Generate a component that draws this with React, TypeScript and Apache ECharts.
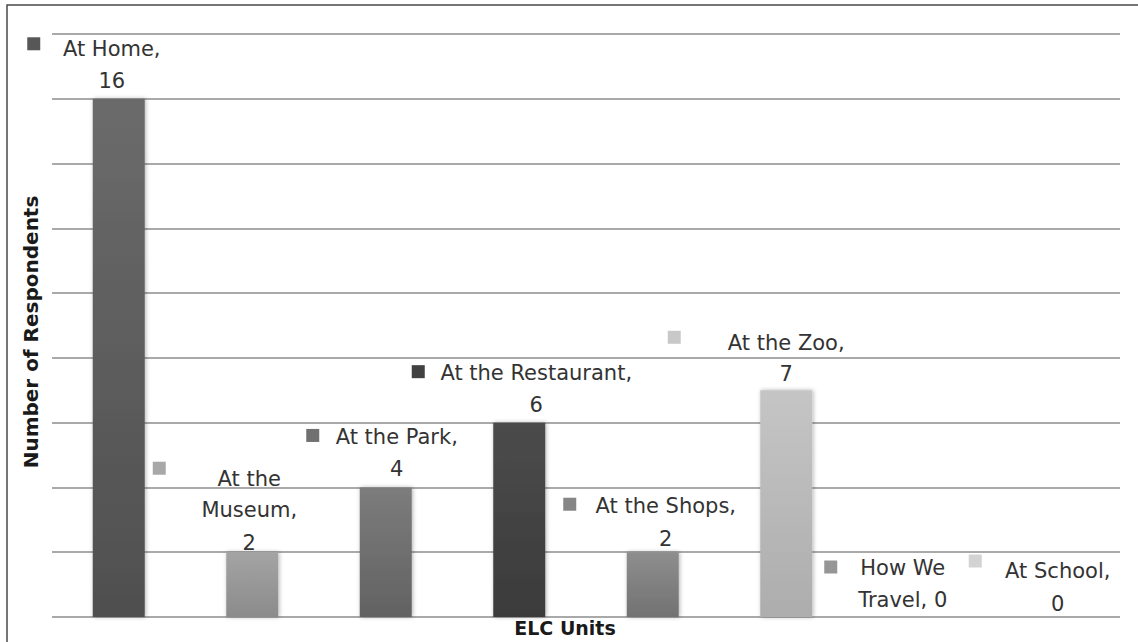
import React, { useEffect, useRef } from "react";
import * as echarts from "echarts";

const categories = [
  "At Home",
  "At the Museum",
  "At the Park",
  "At the Restaurant",
  "At the Shops",
  "At the Zoo",
  "How We Travel",
  "At School",
];
const respondents = [16, 2, 4, 6, 2, 7, 0, 0];
const yMin = 0;
const yMax = 18;
const yInterval = 2;

// label text lines ({v} = value)
const labelLines = [
  ["At Home,", "{v}"],
  ["At the", "Museum,", "{v}"],
  ["At the Park,", "{v}"],
  ["At the Restaurant,", "{v}"],
  ["At the Shops,", "{v}"],
  ["At the Zoo,", "{v}"],
  ["How We", "Travel, {v}"],
  ["At School,", "{v}"],
];

// styles
const barTop = ["#6b6b6b", "#a4a4a4", "#7c7c7c", "#4b4b4b", "#8e8e8e", "#c5c5c5", "#9a9a9a", "#d0d0d0"];
const barBottom = ["#4f4f4f", "#8b8b8b", "#626262", "#3b3b3b", "#727272", "#adadad", "#858585", "#bcbcbc"];
const keyColors = ["#575757", "#a8a8a8", "#707070", "#414141", "#868686", "#c8c8c8", "#969696", "#d3d3d3"];
// label layout relative to bar top (dx of text centre, dy of each line centre, key square centre)
const labelLayout = [
  { dx: -7, dy: [-49.5, -17.5], sq: [-85, -55] },
  { dx: -3, dy: [-73.5, -42, -9], sq: [-93, -84] },
  { dx: 11, dy: [-50.5, -18.5], sq: [-73, -52] },
  { dx: 17, dy: [-50, -18], sq: [-101, -51] },
  { dx: 13, dy: [-46, -13], sq: [-83, -48] },
  { dx: 0, dy: [-47.5, -16], sq: [-112, -53] },
  { dx: -17, dy: [-49, -17.5], sq: [-89, -50] },
  { dx: 4.5, dy: [-46, -13], sq: [-78, -56] },
];

const FONT = "DejaVu Sans";

export default function App() {
  const ref = useRef<HTMLDivElement>(null);
  useEffect(() => {
    if (!ref.current) return;
    const chart = echarts.init(ref.current, null, { renderer: "svg" });
    const barData = respondents.map((v, i) => ({
      value: v,
      itemStyle: {
        color: new echarts.graphic.LinearGradient(0, 0, 0, 1, [
          { offset: 0, color: barTop[i] },
          { offset: 1, color: barBottom[i] },
        ]),
      },
    }));
    const labelData = respondents.map((v, i) => [i, v]);
    chart.setOption({
      animation: false,
      backgroundColor: "#ffffff",
      grid: { left: 52, right: 18, top: 34, bottom: 25, containLabel: false },
      xAxis: {
        type: "category",
        data: categories,
        axisLine: { show: false },
        axisTick: { show: false },
        axisLabel: { show: false },
        splitLine: { show: false },
      },
      yAxis: {
        type: "value",
        min: yMin,
        max: yMax,
        interval: yInterval,
        axisLine: { show: false },
        axisTick: { show: false },
        axisLabel: { show: false },
        splitLine: { show: true, lineStyle: { color: "#8c8c8c", width: 1.6 } },
      },
      graphic: [
        {
          type: "rect",
          shape: { x: 7, y: 5, width: 1150, height: 660 },
          style: { fill: "none", stroke: "#4a4a4a", lineWidth: 1.5 },
          silent: true,
        },
        {
          type: "text",
          x: 31,
          y: 332,
          rotation: Math.PI / 2,
          style: {
            text: "Number of Respondents",
            align: "center",
            verticalAlign: "middle",
            font: `bold 20px ${FONT}`,
            fill: "#1a1a1a",
          },
        },
        {
          type: "text",
          x: 565,
          y: 628,
          style: {
            text: "ELC Units",
            align: "center",
            verticalAlign: "middle",
            font: `bold 19px ${FONT}`,
            fill: "#1a1a1a",
          },
        },
      ],
      series: [
        {
          type: "bar",
          data: barData,
          barWidth: 52,
          itemStyle: {
            shadowColor: "rgba(0,0,0,0.3)",
            shadowBlur: 4,
            shadowOffsetX: 1,
          },
          silent: true,
        },
        {
          type: "custom",
          coordinateSystem: "cartesian2d",
          data: labelData,
          encode: { x: 0, y: 1 },
          clip: false,
          z: 5,
          silent: true,
          renderItem: (params: any, api: any) => {
            const i = params.dataIndex;
            const pt = api.coord([api.value(0), api.value(1)]);
            const L = labelLayout[i];
            const v = respondents[i];
            const children: any[] = [
              {
                type: "rect",
                shape: { x: pt[0] + L.sq[0] - 6.5, y: pt[1] + L.sq[1] - 6.5, width: 13, height: 13 },
                style: { fill: keyColors[i] },
              },
            ];
            labelLines[i].forEach((t, k) => {
              children.push({
                type: "text",
                x: pt[0] + L.dx,
                y: pt[1] + L.dy[k],
                style: {
                  text: t.replace("{v}", String(v)),
                  align: "center",
                  verticalAlign: "middle",
                  font: `21px ${FONT}`,
                  fill: "#333333",
                },
              });
            });
            return { type: "group", children };
          },
        },
      ],
    });
    return () => chart.dispose();
  }, []);
  return (
    <div
      ref={ref}
      style={{ position: "absolute", left: 0, top: 0, width: 1138, height: 642, background: "#fff" }}
    />
  );
}
